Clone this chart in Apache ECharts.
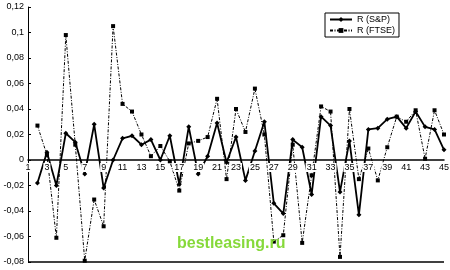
<!DOCTYPE html>
<html><head><meta charset="utf-8">
<script src="https://cdn.jsdelivr.net/npm/echarts@6/dist/echarts.min.js"></script>
<style>html,body{margin:0;padding:0;background:#fff}#c{width:450px;height:270px}</style>
</head><body><div id="c"></div>
<script>
var categories = [];
for (var i = 1; i <= 45; i++) categories.push(String(i));
var sp = [null,-0.018,0.006,-0.020,0.021,0.014,-0.011,0.028,-0.022,0.000,
  0.017,0.019,0.012,0.016,0.000,0.019,-0.019,0.026,-0.011,0.003,
  0.029,-0.002,0.018,-0.016,0.007,0.030,-0.034,-0.042,0.016,0.010,
  -0.027,0.034,0.027,-0.025,0.015,-0.043,0.024,0.025,0.032,0.034,
  0.025,0.038,0.026,0.024,0.008];
var ftse = [null,0.027,0.004,-0.061,0.098,0.012,-0.079,-0.031,-0.052,0.105,
  0.044,0.038,0.020,0.003,0.011,-0.001,-0.024,0.013,0.015,0.018,
  0.048,-0.015,0.040,0.022,0.056,0.020,-0.064,-0.059,0.012,-0.065,
  -0.012,0.042,0.038,-0.076,0.040,-0.015,0.009,-0.016,0.010,0.034,
  0.030,0.039,0.001,0.039,0.020];
var seriesNames = ['R (S&P)', 'R (FTSE)'];
var yMin = -0.08, yMax = 0.12, yStep = 0.02;

var H = 270, gridTop = 7, gridBottom = 8;
var zeroFromBottom = (H - gridTop - gridBottom) * (0 - yMin) / (yMax - yMin);

var font = 'Liberation Sans';
var chart = echarts.init(document.getElementById('c'), null, {renderer: 'canvas'});
chart.setOption({
  animation: false,
  backgroundColor: '#fff',
  textStyle: {fontFamily: font},
  title: {
    text: 'bestleasing.ru', left: 172, top: 231,
    textStyle: {color: '#86d93a', fontSize: 16, fontWeight: 'bold', fontFamily: font}
  },
  grid: {left: 28, right: 6, top: gridTop, bottom: gridBottom, containLabel: false, outerBoundsMode: 'none'},
  legend: {
    left: 325, top: 13, orient: 'vertical', itemGap: 2,
    itemWidth: 22, itemHeight: 6,
    borderColor: '#000', borderWidth: 1, borderRadius: 0, padding: [2, 4, 2, 4],
    textStyle: {fontSize: 9, color: '#000', fontFamily: font},
    data: seriesNames
  },
  xAxis: {
    type: 'category', data: categories, boundaryGap: false, z: 10,
    axisLine: {onZero: true, lineStyle: {color: '#000', width: 1.5}},
    axisTick: {show: false},
    axisLabel: {
      interval: 1, color: '#000', fontSize: 9, margin: -zeroFromBottom + 3, fontFamily: font,
      backgroundColor: '#fff', padding: [0, 1, 0, 1]
    },
    splitLine: {show: false}
  },
  yAxis: {
    type: 'value', min: yMin, max: yMax, interval: yStep,
    axisLine: {show: true, lineStyle: {color: '#000', width: 1}},
    axisTick: {show: true, inside: true, length: 3, lineStyle: {color: '#000'}},
    axisLabel: {
      color: '#000', fontSize: 9, margin: 4, fontFamily: font,
      formatter: function (v) { var r = Math.round(v * 100) / 100; return String(r).replace('.', ','); }
    },
    splitLine: {show: false}
  },
  series: [
    {
      name: seriesNames[0], type: 'line', data: sp,
      symbol: 'diamond', symbolSize: 5,
      itemStyle: {color: '#000'},
      lineStyle: {color: '#000', width: 1.8},
      markLine: {
        silent: true, symbol: 'none', label: {show: false},
        lineStyle: {color: '#000', type: 'solid', width: 1.5},
        data: [{yAxis: yMin}]
      }
    },
    {
      name: seriesNames[1], type: 'line', data: ftse,
      symbol: 'rect', symbolSize: 4,
      itemStyle: {color: '#000'},
      lineStyle: {color: '#000', width: 1, type: [3, 1.5, 1, 1.5]}
    }
  ]
});
</script></body></html>
